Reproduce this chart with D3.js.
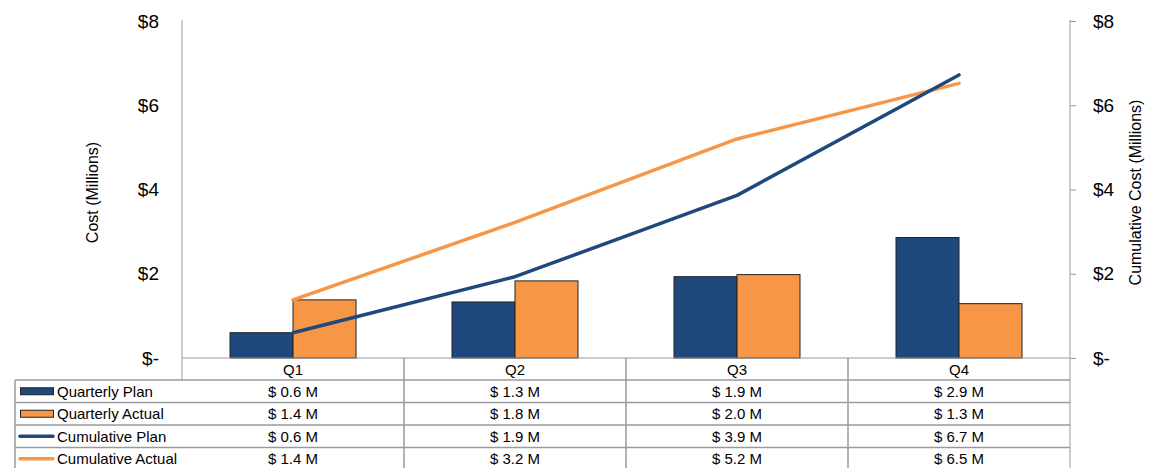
<!DOCTYPE html>
<html><head><meta charset="utf-8">
<script src="https://cdn.jsdelivr.net/npm/d3@7"></script>
<style>body{margin:0;background:#fff;}svg{display:block;font-family:"Liberation Sans",Arial,sans-serif;}</style>
</head><body>
<svg id="c" width="1172" height="468"></svg>
<script>
const categories = ["Q1", "Q2", "Q3", "Q4"];
const quarterlyPlan = [0.6, 1.33, 1.93, 2.86];
const quarterlyActual = [1.38, 1.83, 1.98, 1.29];
const cumulativePlan = [0.6, 1.93, 3.86, 6.72];
const cumulativeActual = [1.38, 3.22, 5.2, 6.52];
const tableQuarterlyPlan = ["$ 0.6 M", "$ 1.3 M", "$ 1.9 M", "$ 2.9 M"];
const tableQuarterlyActual = ["$ 1.4 M", "$ 1.8 M", "$ 2.0 M", "$ 1.3 M"];
const tableCumulativePlan = ["$ 0.6 M", "$ 1.9 M", "$ 3.9 M", "$ 6.7 M"];
const tableCumulativeActual = ["$ 1.4 M", "$ 3.2 M", "$ 5.2 M", "$ 6.5 M"];
const yTicks = [0, 2, 4, 6, 8];
const yTickLabels = ["$-", "$2", "$4", "$6", "$8"];

const NAVY = "#1F497D", ORANGE = "#F79646", GRID = "#9a9a9a";
const svg = d3.select("#c");
const L = 182, R = 1070, T = 21, B = 358;
const x = d3.scaleBand().domain(categories).range([L, R]);
const y = d3.scaleLinear().domain([0, 8]).range([B, T]);
const barW = 63;

// axis lines
svg.append("line").attr("x1", L).attr("x2", L).attr("y1", T - 1).attr("y2", 380).attr("stroke", GRID).attr("stroke-width", 1);
svg.append("line").attr("x1", R).attr("x2", R).attr("y1", T - 1).attr("y2", 468).attr("stroke", GRID).attr("stroke-width", 1);
// right ticks
svg.selectAll(".rt").data(yTicks).enter().append("line")
  .attr("x1", R).attr("x2", R + 6).attr("y1", d => y(d) + 0.5).attr("y2", d => y(d) + 0.5)
  .attr("stroke", GRID);

// tick labels
const tickFont = 19;
svg.selectAll(".lt").data(yTicks).enter().append("text")
  .attr("x", 159).attr("y", d => y(d)).attr("dy", "0.35em").attr("text-anchor", "end")
  .attr("font-size", tickFont).attr("fill", "#000").text((d, i) => yTickLabels[i]);
svg.selectAll(".rtl").data(yTicks).enter().append("text")
  .attr("x", 1093).attr("y", d => y(d)).attr("dy", "0.35em").attr("text-anchor", "start")
  .attr("font-size", tickFont).attr("fill", "#000").text((d, i) => yTickLabels[i]);

// axis titles
svg.append("text").attr("transform", `translate(98,${(T + B) / 2 + 3}) rotate(-90)`)
  .attr("text-anchor", "middle").attr("font-size", 16).text("Cost (Millions)");
svg.append("text").attr("transform", `translate(1141,${(T + B) / 2 + 3}) rotate(-90)`)
  .attr("text-anchor", "middle").attr("font-size", 16).text("Cumulative Cost (Millions)");

// bars
const cx = c => x(c) + x.bandwidth() / 2;
svg.selectAll(".bp").data(quarterlyPlan).enter().append("rect")
  .attr("x", (d, i) => cx(categories[i]) - barW).attr("width", barW)
  .attr("y", d => y(d)).attr("height", d => B - y(d))
  .attr("fill", NAVY).attr("stroke", "#222").attr("stroke-width", 1);
svg.selectAll(".ba").data(quarterlyActual).enter().append("rect")
  .attr("x", (d, i) => cx(categories[i])).attr("width", barW)
  .attr("y", d => y(d)).attr("height", d => B - y(d))
  .attr("fill", ORANGE).attr("stroke", "#222").attr("stroke-width", 1);

// zero line
svg.append("line").attr("x1", L).attr("x2", R).attr("y1", B).attr("y2", B).attr("stroke", GRID);

// lines
const line = d3.line().x((d, i) => cx(categories[i])).y(d => y(d));
svg.append("path").datum(cumulativeActual).attr("d", line).attr("fill", "none")
  .attr("stroke", ORANGE).attr("stroke-width", 3.5).attr("stroke-linecap", "round").attr("stroke-linejoin", "round");
svg.append("path").datum(cumulativePlan).attr("d", line).attr("fill", "none")
  .attr("stroke", NAVY).attr("stroke-width", 3.5).attr("stroke-linecap", "round").attr("stroke-linejoin", "round");

// table
const rowTop = 380, rowH = 22.5, tFont = 15;
const rows = [
  {name: "Quarterly Plan", vals: tableQuarterlyPlan, type: "bar", color: NAVY},
  {name: "Quarterly Actual", vals: tableQuarterlyActual, type: "bar", color: ORANGE},
  {name: "Cumulative Plan", vals: tableCumulativePlan, type: "line", color: NAVY},
  {name: "Cumulative Actual", vals: tableCumulativeActual, type: "line", color: ORANGE}
];
// header labels
svg.selectAll(".hd").data(categories).enter().append("text")
  .attr("x", d => cx(d)).attr("y", (B + rowTop) / 2 + 1).attr("dy", "0.35em")
  .attr("text-anchor", "middle").attr("font-size", tFont).text(d => d);
// vertical separators
categories.slice(1).forEach(c => {
  svg.append("line").attr("x1", x(c)).attr("x2", x(c)).attr("y1", B).attr("y2", 468)
    .attr("stroke", GRID).attr("stroke-width", 1.5);
});
svg.append("line").attr("x1", 15).attr("x2", 15).attr("y1", rowTop).attr("y2", 468).attr("stroke", GRID).attr("stroke-width", 1.5);
// horizontal row lines
for (let k = 0; k <= rows.length; k++) {
  const yy = rowTop + k * rowH;
  svg.append("line").attr("x1", 15).attr("x2", R).attr("y1", yy).attr("y2", yy)
    .attr("stroke", GRID).attr("stroke-width", 1.5);
}
rows.forEach((r, k) => {
  const my = rowTop + k * rowH + rowH / 2;
  if (r.type === "bar") {
    svg.append("rect").attr("x", 20.5).attr("y", my - 3.5).attr("width", 33).attr("height", 7)
      .attr("fill", r.color).attr("stroke", "#222").attr("stroke-width", 1);
  } else {
    svg.append("line").attr("x1", 20).attr("x2", 53).attr("y1", my).attr("y2", my)
      .attr("stroke", r.color).attr("stroke-width", 3.5).attr("stroke-linecap", "round");
  }
  svg.append("text").attr("x", 57).attr("y", my).attr("dy", "0.35em").attr("font-size", tFont).text(r.name);
  svg.selectAll(null).data(r.vals).enter().append("text")
    .attr("x", (d, i) => cx(categories[i])).attr("y", my).attr("dy", "0.35em")
    .attr("text-anchor", "middle").attr("font-size", tFont).text(d => d);
});
</script>
</body></html>
